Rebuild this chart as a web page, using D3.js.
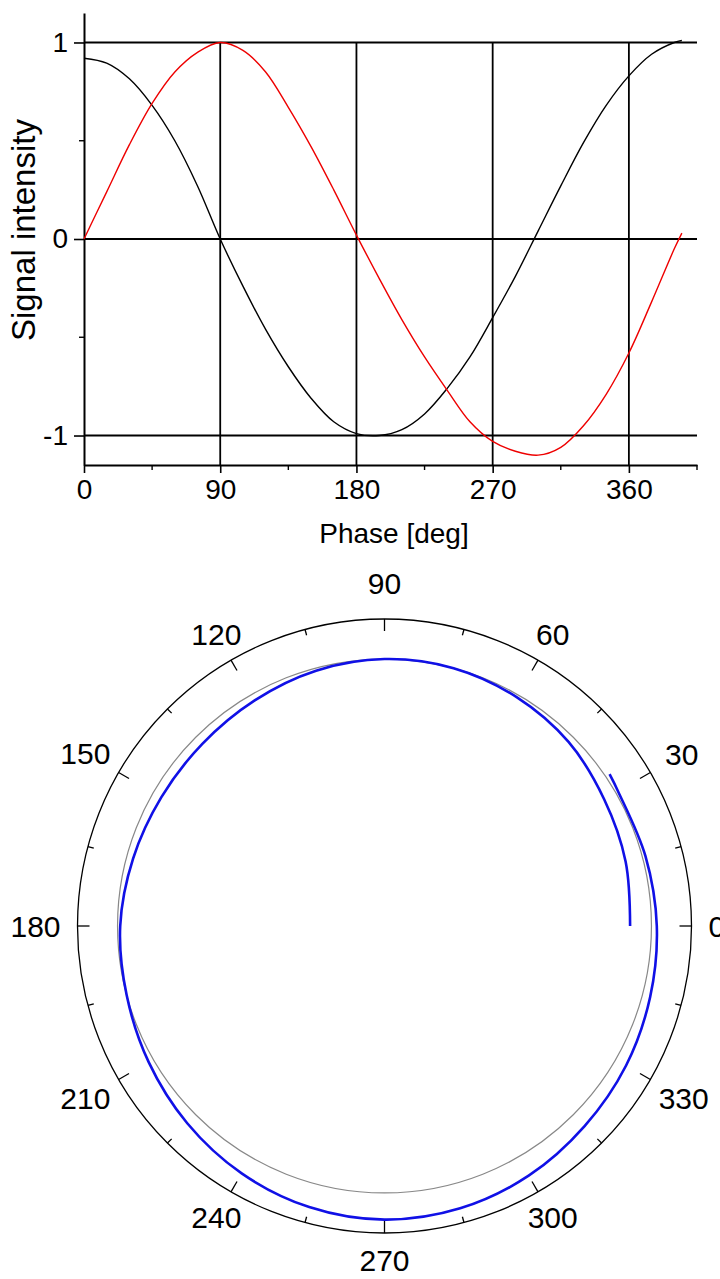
<!DOCTYPE html>
<html>
<head>
<meta charset="utf-8">
<script src="https://cdn.jsdelivr.net/npm/d3@7"></script>
<style>
  body { margin: 0; background: #fff; }
  text { font-family: "Liberation Sans", Arial, sans-serif; fill: #000; }
</style>
</head>
<body>
<svg id="chart" width="720" height="1279"></svg>
<script>
// phase scan, values
const phase    = [0, 15, 30, 45, 60, 75, 90, 105, 120, 135, 150, 165, 180, 195, 210, 225, 240, 255, 270, 285, 300, 315, 330, 345, 360, 375, 390, 395];
const blackSig = [0.92, 0.895, 0.815, 0.68, 0.50, 0.27, 0.0, -0.24, -0.46, -0.65, -0.81, -0.93, -0.99, -1.0, -0.97, -0.89, -0.76, -0.60, -0.40, -0.19, 0.04, 0.27, 0.49, 0.68, 0.83, 0.94, 1.0, 1.01];
const redSig   = [0.0, 0.24, 0.48, 0.69, 0.85, 0.95, 1.0, 0.96, 0.85, 0.67, 0.47, 0.25, 0.02, -0.2, -0.41, -0.6, -0.77, -0.93, -1.03, -1.08, -1.1, -1.06, -0.95, -0.79, -0.58, -0.32, -0.05, 0.03];

const xTicks = [0, 90, 180, 270, 360];
const xMinor = [45, 135, 225, 315, 405];
const yTicks = [-1, 0, 1];
const yMinor = [-0.5, 0.5];

// polar trace: angle in degrees, radius
const polarAngle = [0, 15, 30, 45, 60, 75, 90, 105, 120, 135, 150, 165, 180, 195, 210, 225, 240, 255, 270, 285, 300, 315, 330, 345, 360, 375, 390, 394];
const polarR     = [0.92, 0.935, 0.95, 0.975, 0.99, 1.0, 1.0, 0.99, 0.975, 0.965, 0.965, 0.975, 0.99, 1.0, 1.02, 1.045, 1.07, 1.09, 1.10, 1.095, 1.08, 1.06, 1.045, 1.03, 1.02, 1.012, 1.01, 1.017];
const polarLabels = [0, 30, 60, 90, 120, 150, 180, 210, 240, 270, 300, 330];
const refRadius = 1.0;

let svg = d3.select('#chart');

// ---------- top chart ----------
let x = d3.scaleLinear().domain([0, 405]).range([84, 697]);
let y = d3.scaleLinear().domain([-1.15, 1.15]).range([465, 13]);

// grid
svg.append("g").selectAll("line")
    .data(yTicks)
    .enter().append("line")
    .attr("x1", x(0)).attr("x2", x(405))
    .attr("y1", d => y(d)).attr("y2", d => y(d))
    .attr("stroke", "#000").attr("stroke-width", 1.8);

svg.append("g").selectAll("line")
    .data(xTicks.slice(1))
    .enter().append("line")
    .attr("x1", d => x(d)).attr("x2", d => x(d))
    .attr("y1", y(1)).attr("y2", y(-1.15))
    .attr("stroke", "#000").attr("stroke-width", 1.8);

let xAxis = d3.axisBottom(x).tickValues(xTicks).tickSize(8).tickSizeOuter(0).tickPadding(6);
let gx = svg.append("g")
    .attr("transform", "translate(0," + y(-1.15) + ")")
    .call(xAxis);
gx.selectAll(".tick line").attr("stroke-width", 1.6);
gx.select(".domain").attr("stroke-width", 2);
gx.selectAll("text").attr("font-size", 28).style("font-family", "Liberation Sans, Arial");
gx.selectAll(".minor").data(xMinor).enter().append("line")
    .attr("x1", d => x(d)).attr("x2", d => x(d))
    .attr("y1", 0).attr("y2", 5)
    .attr("stroke", "#000").attr("stroke-width", 1.4);

let yAxis = d3.axisLeft(y).tickValues(yTicks).tickSize(10).tickSizeOuter(0).tickPadding(6).tickFormat(d => String(d));
let gy = svg.append("g")
    .attr("transform", "translate(" + x(0) + ",0)")
    .call(yAxis);
gy.selectAll(".tick line").attr("stroke-width", 1.6);
gy.select(".domain").attr("stroke-width", 2);
gy.selectAll("text").attr("font-size", 28).style("font-family", "Liberation Sans, Arial");
gy.selectAll(".minor").data(yMinor).enter().append("line")
    .attr("x1", -5).attr("x2", 0)
    .attr("y1", d => y(d)).attr("y2", d => y(d))
    .attr("stroke", "#000").attr("stroke-width", 1.4);

let sigLine = (vals) => d3.line()
    .x((d, i) => x(phase[i]))
    .y(d => y(d))
    .curve(d3.curveCatmullRom)(vals);

svg.append("path").attr("d", sigLine(blackSig))
    .attr("fill", "none").attr("stroke", "#000").attr("stroke-width", 1.4);
svg.append("path").attr("d", sigLine(redSig))
    .attr("fill", "none").attr("stroke", "#ee0000").attr("stroke-width", 1.4);

svg.append("text")
    .attr("x", 394).attr("y", 543)
    .attr("text-anchor", "middle")
    .attr("font-size", 28)
    .text("Phase [deg]");

svg.append("text")
    .attr("transform", "translate(35,230) rotate(-90)")
    .attr("text-anchor", "middle")
    .attr("font-size", 33)
    .text("Signal intensity");

// ---------- polar chart ----------
let cx = 384.5, cy = 926, R = 307;
let r = d3.scaleLinear().domain([0, 1.15]).range([0, R]);
let rad = (deg) => deg * Math.PI / 180;

let polar = svg.append("g").attr("transform", "translate(" + cx + "," + cy + ")");

polar.append("circle").attr("r", r(1.15))
    .attr("fill", "none").attr("stroke", "#000").attr("stroke-width", 1.3);
polar.append("circle").attr("r", r(refRadius))
    .attr("fill", "none").attr("stroke", "#888").attr("stroke-width", 1.2);

let tickAngles = d3.range(0, 360, 15);
polar.selectAll(".ptick").data(tickAngles).enter().append("line")
    .attr("x1", d => Math.cos(rad(d)) * R)
    .attr("y1", d => -Math.sin(rad(d)) * R)
    .attr("x2", d => Math.cos(rad(d)) * (R - (d % 30 === 0 ? 12 : 6)))
    .attr("y2", d => -Math.sin(rad(d)) * (R - (d % 30 === 0 ? 12 : 6)))
    .attr("stroke", "#000").attr("stroke-width", 1.3);

// label placement: keep text box a fixed gap outside the circle
let fs = 30, capH = fs * 0.716, digitW = fs * 0.556;
polar.selectAll(".plabel").data(polarLabels).enter().append("text")
    .attr("font-size", fs)
    .attr("text-anchor", "middle")
    .each(function (d) {
        let w = String(d).length * digitW / 2, h = capH / 2;
        let c = Math.abs(Math.cos(rad(d))), s = Math.abs(Math.sin(rad(d)));
        let ext = Math.min(c > 1e-6 ? w / c : 1e9, s > 1e-6 ? h / s : 1e9);
        let dist = R + 17 + ext + (d === 90 ? 8 : 0);
        d3.select(this)
            .attr("x", Math.cos(rad(d)) * dist)
            .attr("y", -Math.sin(rad(d)) * dist + capH / 2);
    })
    .text(d => d);

let radial = d3.lineRadial()
    .angle((d, i) => rad(90 - polarAngle[i]))
    .radius(d => r(d))
    .curve(d3.curveCatmullRom);

polar.append("path").attr("d", radial(polarR))
    .attr("fill", "none").attr("stroke", "#1010e6").attr("stroke-width", 2.6);
</script>
</body>
</html>
